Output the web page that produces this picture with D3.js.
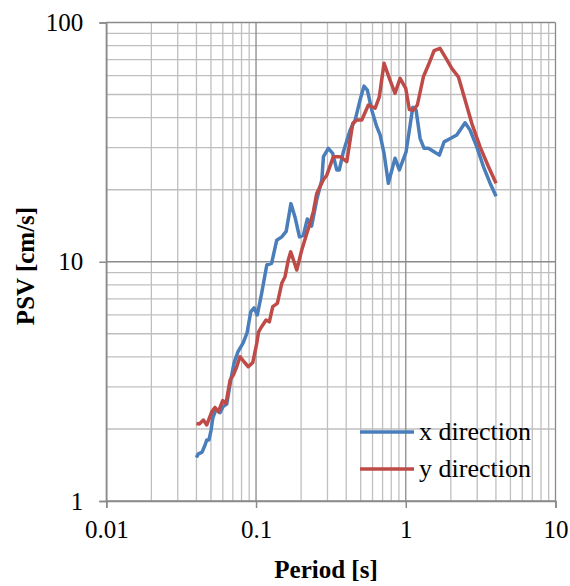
<!DOCTYPE html>
<html>
<head>
<meta charset="utf-8">
<script src="https://cdn.jsdelivr.net/npm/d3@7"></script>
<style>
  body { margin: 0; background: #fff; }
  text { font-family: "Liberation Serif", "Times New Roman", serif; }
</style>
</head>
<body>
<svg id="chart" width="570" height="586"></svg>
<script>
'use strict';

// x direction (period [s], PSV [cm/s])
var xPeriods = [0.040, 0.041, 0.0436, 0.0456, 0.0469, 0.0485, 0.0501, 0.0514, 0.0541, 0.0575,
    0.0602, 0.0637, 0.0678, 0.0713, 0.0758, 0.0819, 0.0871, 0.0922, 0.097, 0.102,
    0.109, 0.118, 0.127, 0.1375, 0.1485, 0.159, 0.171, 0.182, 0.195, 0.207,
    0.220, 0.235, 0.254, 0.275, 0.282, 0.304, 0.325, 0.346, 0.360, 0.383,
    0.425, 0.459, 0.495, 0.526, 0.554, 0.593, 0.640, 0.674, 0.716, 0.765,
    0.848, 0.906, 1.005, 1.057, 1.114, 1.172, 1.246, 1.325, 1.416, 1.545,
    1.676, 1.803, 1.998, 2.191, 2.490, 2.688, 2.981, 3.299, 3.657, 4.01];
var xValues = [1.52, 1.57, 1.60, 1.71, 1.80, 1.80, 1.98, 2.22, 2.42, 2.34,
    2.48, 2.54, 3.20, 3.77, 4.21, 4.57, 5.04, 6.18, 6.42, 5.99,
    7.38, 9.69, 9.85, 12.3, 12.7, 13.4, 17.5, 15.4, 12.7, 12.9,
    15.1, 14.1, 18.1, 22.0, 27.5, 29.8, 28.4, 24.2, 24.2, 28.8,
    35.5, 39.1, 47.4, 54.2, 52.2, 43.0, 36.7, 33.9, 28.4, 21.3,
    27.1, 24.2, 28.8, 35.5, 44.2, 43.0, 32.8, 29.8, 29.8, 28.8,
    27.9, 31.7, 32.8, 33.9, 38.1, 35.5, 30.2, 25.0, 21.3, 18.8];

// y direction
var yPeriods = [0.040, 0.0418, 0.0445, 0.0469, 0.0488, 0.0506, 0.0532, 0.056, 0.0599, 0.063,
    0.0671, 0.0705, 0.0743, 0.0781, 0.0831, 0.0888, 0.0951, 0.1011, 0.1039, 0.109,
    0.1166, 0.1227, 0.1293, 0.1388, 0.1485, 0.1562, 0.1644, 0.1705, 0.1776, 0.1871,
    0.202, 0.218, 0.2295, 0.2414, 0.2543, 0.2817, 0.2968, 0.3284, 0.364, 0.4036,
    0.4426, 0.4706, 0.5083, 0.5627, 0.6237, 0.666, 0.716, 0.785, 0.848, 0.916,
    1.0, 1.057, 1.124, 1.195, 1.311, 1.416, 1.545, 1.694, 1.858, 2.029,
    2.246, 2.49, 2.76, 3.135, 3.563, 4.01];
var yValues = [2.11, 2.10, 2.18, 2.08, 2.22, 2.36, 2.46, 2.36, 2.63, 2.56,
    3.20, 3.36, 3.64, 4.01, 3.82, 3.64, 3.79, 4.56, 5.08, 5.35,
    5.71, 5.61, 6.49, 6.70, 8.13, 8.66, 10.2, 11.0, 10.2, 9.23,
    11.2, 13.1, 14.5, 16.2, 19.3, 22.0, 23.0, 27.5, 27.5, 26.2,
    37.9, 39.1, 39.1, 45.2, 43.8, 48.9, 67.5, 57.4, 50.6, 58.4,
    53.0, 43.3, 43.0, 45.2, 59.3, 66.4, 76.2, 78.0, 70.8, 64.3,
    59.3, 47.4, 37.9, 30.2, 25.0, 21.3];

var xTicks = [0.01, 0.1, 1, 10];
var yTicks = [1, 10, 100];
var seriesNames = ['x direction', 'y direction'];

var svg = d3.select('#chart');
var margin = {top: 22.5, right: 14.5, bottom: 85, left: 106.3};
var width = 570 - margin.left - margin.right;
var height = 586 - margin.top - margin.bottom;

var x = d3.scaleLog().domain([0.01, 10]).range([0, width]);
var y = d3.scaleLog().domain([1, 100]).range([height, 0]);

var g = svg.append('g').attr('transform', 'translate(' + margin.left + ',' + margin.top + ')');

// minor ticks: 2..9 in each decade
function minors(lo, hi) {
    var out = [];
    for (var d = lo; d < hi; d *= 10) {
        for (var k = 2; k <= 9; k++) out.push(d * k);
    }
    return out;
}

var grid = g.append('g').attr('class', 'grid');
grid.selectAll('line.vminor').data(minors(0.01, 10)).enter().append('line')
    .attr('x1', function (d) { return x(d); }).attr('x2', function (d) { return x(d); })
    .attr('y1', 0).attr('y2', height)
    .attr('stroke', '#bfbfbf').attr('stroke-width', 1.3);
grid.selectAll('line.hminor').data(minors(1, 100)).enter().append('line')
    .attr('y1', function (d) { return y(d); }).attr('y2', function (d) { return y(d); })
    .attr('x1', 0).attr('x2', width)
    .attr('stroke', '#bfbfbf').attr('stroke-width', 1.3);
grid.selectAll('line.vmajor').data(xTicks).enter().append('line')
    .attr('x1', function (d) { return x(d); }).attr('x2', function (d) { return x(d); })
    .attr('y1', 0).attr('y2', height)
    .attr('stroke', '#8a8a8a').attr('stroke-width', 1.3);
grid.selectAll('line.hmajor').data(yTicks).enter().append('line')
    .attr('y1', function (d) { return y(d); }).attr('y2', function (d) { return y(d); })
    .attr('x1', 0).attr('x2', width)
    .attr('stroke', '#8a8a8a').attr('stroke-width', 1.3);

// axes
var xAxis = d3.axisBottom(x).tickValues(xTicks).tickSize(7).tickPadding(12)
    .tickFormat(function (d) { return String(d); });
var yAxis = d3.axisLeft(y).tickValues(yTicks).tickSize(7).tickPadding(16)
    .tickFormat(function (d) { return String(d); });

[g.append('g').attr('transform', 'translate(0,' + height + ')').call(xAxis),
 g.append('g').call(yAxis)].forEach(function (ax) {
    ax.select('.domain').attr('stroke', '#8a8a8a').attr('stroke-width', 1.5);
    ax.selectAll('.tick line').attr('stroke', '#8a8a8a').attr('stroke-width', 1.5);
    ax.selectAll('.tick text').attr('fill', '#000')
        .style('font-family', '"Liberation Serif", serif').style('font-size', '25px');
});

// series
var line = d3.line()
    .x(function (d) { return x(d[0]); })
    .y(function (d) { return y(d[1]); });

var series = [
    {name: seriesNames[0], color: '#4a7ebb', pts: d3.zip(xPeriods, xValues)},
    {name: seriesNames[1], color: '#be4b48', pts: d3.zip(yPeriods, yValues)}
];

g.selectAll('path.series').data(series).enter().append('path')
    .attr('class', 'series')
    .attr('d', function (d) { return line(d.pts); })
    .attr('fill', 'none')
    .attr('stroke', function (d) { return d.color; })
    .attr('stroke-width', 3.5)
    .attr('stroke-linejoin', 'round');

// legend
var legend = svg.append('g').attr('transform', 'translate(360,432)');
series.forEach(function (s, i) {
    var row = legend.append('g').attr('transform', 'translate(0,' + (i * 37) + ')');
    row.append('line').attr('x1', 0).attr('x2', 54).attr('y1', 0).attr('y2', 0)
        .attr('stroke', s.color).attr('stroke-width', 3.5);
    row.append('text').attr('x', 59).attr('y', 8).style('font-size', '26px').text(s.name);
});

// axis titles
svg.append('text').attr('x', 326).attr('y', 578).attr('text-anchor', 'middle')
    .style('font-size', '25px').style('font-weight', 'bold').text('Period [s]');
svg.append('text').attr('transform', 'translate(34,266) rotate(-90)').attr('text-anchor', 'middle')
    .style('font-size', '25px').style('font-weight', 'bold').text('PSV [cm/s]');
</script>
</body>
</html>
